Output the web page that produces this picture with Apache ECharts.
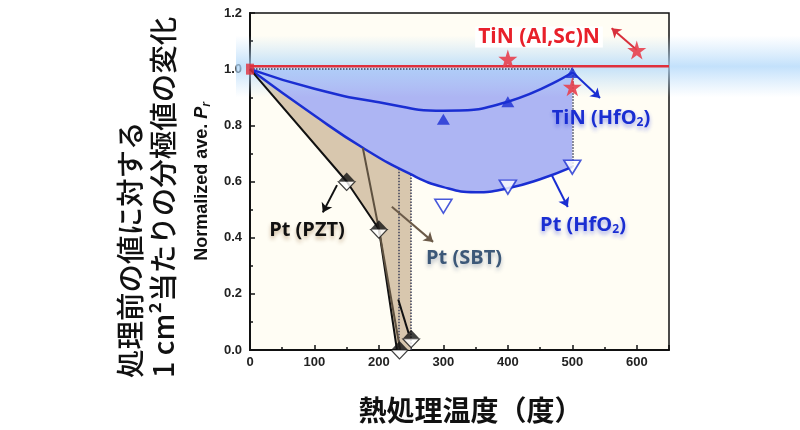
<!DOCTYPE html>
<html>
<head>
<meta charset="utf-8">
<script src="https://cdn.jsdelivr.net/npm/echarts@6/dist/echarts.min.js"></script>
<style>
  html, body { margin: 0; padding: 0; background: #fff; }
  #chart { width: 800px; height: 430px; }
</style>
</head>
<body>
<div id="chart"></div>
<script>
// 数据（图中读取）
const alScLine = [[0, 1.01], [650, 1.01]]
const alScStars = [[400, 1.036], [500, 0.937], [600, 1.068]]
const alScOrigin = [[0, 1.0]]
const tinHfCurve = [[0, 1.0], [100, 0.93], [200, 0.882], [300, 0.852], [400, 0.884], [500, 0.988]]
const tinHfMarks = [[300, 0.822], [400, 0.884], [500, 0.988]]
const ptHfCurve = [[0, 1.0], [100, 0.835], [175, 0.72], [250, 0.625], [300, 0.58], [350, 0.562], [400, 0.576], [450, 0.608], [500, 0.652]]
const ptHfMarks = [[300, 0.512], [400, 0.58], [500, 0.651]]
const pztLine = [[0, 1.0], [150, 0.6], [200, 0.43], [228, 0]]
const sbtLine = [[175, 0.72], [200, 0.43], [233, 0]]
const sbtTail = [[230, 0.18], [246, 0.06]]
const halfMarks = [[150, 0.6], [200, 0.43], [250, 0.04], [232, 0.0]]

const blue = '#1a2ed2'
const star = 'path://M50,0 L61,35 L98,35 L68,57 L79,91 L50,70 L21,91 L32,57 L2,35 L39,35 Z'

function arrow(a, b, color) {
  return [{ coord: a, lineStyle: { color: color } }, { coord: b }]
}
function vline(a, b) {
  return [{ coord: a }, { coord: b }]
}

const chart = echarts.init(document.getElementById('chart'))

const option = {
  animation: false,
  backgroundColor: '#fff',
  grid: {
    left: 250, right: 131, top: 13, bottom: 80,
    show: true, backgroundColor: '#fffdf4', borderColor: '#111', borderWidth: 1.5
  },
  xAxis: {
    type: 'value', min: 0, max: 650, interval: 100,
    name: '熱処理温度（度）', nameLocation: 'middle', nameGap: 46,
    nameTextStyle: { fontFamily: 'Noto Sans CJK JP', fontSize: 28, fontWeight: 'bold', color: '#111', padding: [0, 0, 0, 22] },
    axisLine: { lineStyle: { color: '#111', width: 2 } },
    axisTick: { inside: true, length: 5, lineStyle: { color: '#111', width: 1.5 } },
    minorTick: { show: true, splitNumber: 2, length: 3, lineStyle: { color: '#111', width: 1.5 } },
    splitLine: { show: false },
    axisLabel: { showMaxLabel: false, margin: 6, fontFamily: 'Liberation Sans', fontWeight: 'bold', fontSize: 13, color: '#222' }
  },
  yAxis: {
    type: 'value', min: 0, max: 1.2, interval: 0.2,
    name: 'Normalized ave. {i|P}{s|r}', nameLocation: 'middle', nameGap: 36, nameRotate: 90,
    nameTextStyle: {
      fontFamily: 'Liberation Sans', fontSize: 18, fontWeight: 'bold', color: '#111',
      rich: {
        i: { fontFamily: 'Liberation Sans', fontSize: 18, fontWeight: 'bold', fontStyle: 'italic', color: '#111' },
        s: { fontFamily: 'Liberation Sans', fontSize: 12, fontWeight: 'bold', fontStyle: 'italic', color: '#111', padding: [9, 0, 0, 0] }
      }
    },
    axisLine: { lineStyle: { color: '#111', width: 2 } },
    axisTick: { inside: true, length: 5, lineStyle: { color: '#111', width: 1.5 } },
    minorTick: { show: true, splitNumber: 2, length: 3, lineStyle: { color: '#111', width: 1.5 } },
    splitLine: { show: false },
    axisLabel: { margin: 8, formatter: v => v.toFixed(1), fontFamily: 'Liberation Sans', fontWeight: 'bold', fontSize: 13, color: '#222' }
  },
  series: [
    {
      // 褐色区域
      type: 'custom', z: 1, silent: true, data: [[0, 0]],
      renderItem: function (params, api) {
        const top = ptHfCurve.filter(p => p[0] <= 250)
        const pts = top.concat([[250, 0]], pztLine.slice().reverse()).map(p => api.coord(p))
        return { type: 'polygon', shape: { points: pts }, style: { fill: '#d8c7ae' } }
      }
    },
    {
      name: 'Pt (HfO2) area', type: 'line', z: 2, smooth: true, data: ptHfCurve,
      showSymbol: false, lineStyle: { width: 0 },
      areaStyle: { origin: 1.0, color: '#adb5f3', opacity: 1 }
    },
    {
      // 虚线
      type: 'line', z: 4, data: [],
      markLine: {
        silent: true, symbol: ['none', 'none'], label: { show: false },
        lineStyle: { color: '#3a3f5a', type: 'dotted', width: 1.5 },
        data: [
          vline([0, 1.0], [500, 1.0]),
          vline([500, 1.0], [500, 0.652]),
          vline([230, 0.645], [230, 0]),
          vline([250, 0.625], [250, 0])
        ]
      }
    },
    {
      name: 'Pt (HfO2)', type: 'line', z: 5, smooth: true, data: ptHfCurve,
      showSymbol: false, lineStyle: { color: blue, width: 2.5 }
    },
    {
      name: 'TiN (HfO2)', type: 'line', z: 5, smooth: true, data: tinHfCurve,
      showSymbol: false, lineStyle: { color: blue, width: 2.5 }
    },
    {
      name: 'Pt (PZT)', type: 'line', z: 5, data: pztLine,
      showSymbol: false, lineStyle: { color: '#111', width: 2 }
    },
    {
      name: 'Pt (SBT)', type: 'line', z: 5, data: sbtLine,
      showSymbol: false, lineStyle: { color: '#5e5140', width: 2 }
    },
    {
      type: 'line', z: 5, data: sbtTail,
      showSymbol: false, lineStyle: { color: '#111', width: 2 }
    },
    {
      name: 'TiN (Al,Sc)N', type: 'line', z: 6, data: alScLine,
      showSymbol: false, lineStyle: { color: '#e0303c', width: 2.5 },
      markLine: {
        silent: true, symbol: ['none', 'arrow'], symbolSize: 9, label: { show: false },
        lineStyle: { type: 'solid', width: 2 },
        data: [
          arrow([600, 1.068], [561, 1.146], '#d8303c'),
          arrow([500, 0.99], [543, 0.897], blue),
          arrow([468, 0.623], [493, 0.509], blue),
          arrow([220, 0.51], [284, 0.385], '#6b5a48'),
          arrow([135, 0.587], [113, 0.49], '#111')
        ]
      }
    },
    {
      type: 'scatter', z: 7, data: tinHfMarks, symbol: 'triangle', symbolSize: [13, 11],
      itemStyle: { color: blue }
    },
    {
      type: 'scatter', z: 7, data: ptHfMarks, symbol: 'triangle', symbolRotate: 180, symbolSize: [17, 14],
      itemStyle: { color: '#fff', borderColor: blue, borderWidth: 1.6 }
    },
    {
      type: 'scatter', z: 7, data: halfMarks, symbol: 'triangle', symbolSize: [17, 9], symbolOffset: [0, -4.5],
      itemStyle: { color: '#111' }
    },
    {
      type: 'scatter', z: 7, data: halfMarks, symbol: 'triangle', symbolRotate: 180, symbolSize: [17, 9], symbolOffset: [0, 4.5],
      itemStyle: { color: '#fff', borderColor: '#111', borderWidth: 1 }
    },
    {
      type: 'scatter', z: 7, data: alScStars, symbol: star, symbolSize: 19,
      itemStyle: { color: '#e8404e', opacity: 0.9 }
    },
    {
      type: 'scatter', z: 7, data: alScOrigin, symbol: 'rect', symbolSize: [8, 11],
      itemStyle: { color: '#e0303c' }
    }
  ]
}
chart.setOption(option)

// 发光带 与 文字
const yTop = chart.convertToPixel({ gridIndex: 0 }, [0, 1.12])[1]
const yBot = chart.convertToPixel({ gridIndex: 0 }, [0, 0.9])[1]
const glow = new echarts.graphic.LinearGradient(0, 0, 0, 1, [
  { offset: 0, color: 'rgba(185,220,250,0)' },
  { offset: 0.5, color: 'rgba(175,215,250,0.75)' },
  { offset: 1, color: 'rgba(185,220,250,0)' }
])
const tagStyle = (color, shadow) => ({
  fontFamily: 'Open Sans', fontWeight: 'bold', fontSize: 20, fill: color,
  textAlign: 'center', textVerticalAlign: 'middle',
  textShadowColor: shadow, textShadowBlur: 4, textShadowOffsetY: 3
})
const jpStyle = text => ({
  text: text, fontFamily: 'Noto Sans CJK JP', fontWeight: 500, fontSize: 28.5, fill: '#111',
  textAlign: 'left', textVerticalAlign: 'middle'
})
chart.setOption({
  graphic: [
    { type: 'rect', z: 3, silent: true, shape: { x: 236, y: yTop, width: 564, height: yBot - yTop }, style: { fill: glow } },
    {
      type: 'text', z: 10, x: 539, y: 37,
      style: { text: 'TiN (Al,Sc)N', fontFamily: 'Open Sans', fontWeight: 'bold', fontSize: 21, fill: '#e8202a',
        textAlign: 'center', textVerticalAlign: 'middle', backgroundColor: '#fff', padding: [0, 3] }
    },
    {
      type: 'text', z: 10, x: 601, y: 118,
      style: Object.assign(tagStyle(blue, 'rgba(40,60,220,0.45)'), {
        text: 'TiN (HfO{s|2})', rich: { s: { fontFamily: 'Open Sans', fontWeight: 'bold', fontSize: 12, fill: blue, padding: [10, 0, 0, 0] } }
      })
    },
    {
      type: 'text', z: 10, x: 583, y: 225,
      style: Object.assign(tagStyle(blue, 'rgba(40,60,220,0.45)'), {
        text: 'Pt (HfO{s|2})', rich: { s: { fontFamily: 'Open Sans', fontWeight: 'bold', fontSize: 12, fill: blue, padding: [10, 0, 0, 0] } }
      })
    },
    { type: 'text', z: 10, x: 464, y: 258, style: Object.assign(tagStyle('#3c5878', 'rgba(90,110,140,0.45)'), { text: 'Pt (SBT)' }) },
    { type: 'text', z: 10, x: 307, y: 230, style: Object.assign(tagStyle('#111', 'rgba(150,110,60,0.5)'), { text: 'Pt (PZT)' }) },
    { type: 'text', z: 10, x: 130, y: 378, rotation: Math.PI / 2, style: jpStyle('処理前の値に対する') },
    { type: 'text', z: 10, x: 163, y: 378, rotation: Math.PI / 2, style: jpStyle('1 cm²当たりの分極値の変化') }
  ]
})
</script>
</body>
</html>
